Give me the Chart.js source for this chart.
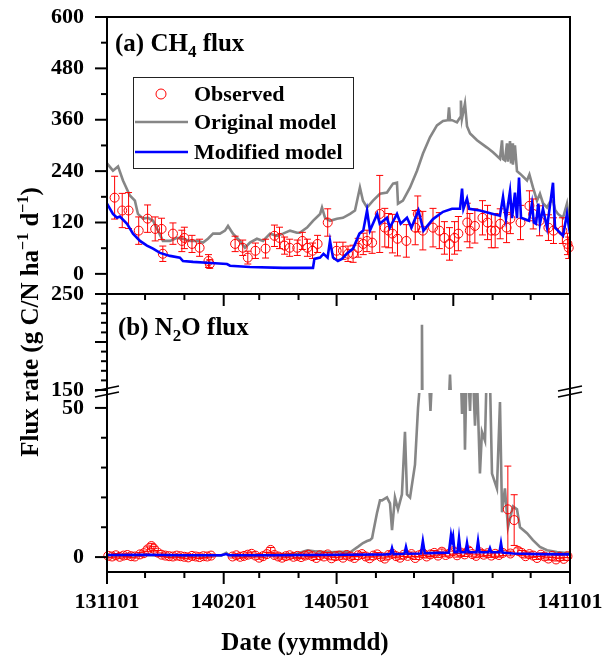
<!DOCTYPE html>
<html>
<head>
<meta charset="utf-8">
<script src="https://cdn.jsdelivr.net/npm/chart.js@4.4.1/dist/chart.umd.min.js"></script>
<style>
  html, body { margin: 0; padding: 0; background: #fff; }
  #fluxChart { display: block; }
</style>
</head>
<body>
<canvas id="fluxChart" width="604" height="663"></canvas>
<script>
// ---- Data (x = days since 2013-11-01) ----
const xMajorDays = [0, 92, 181, 273, 365];
const xMajorLabels = ['131101', '140201', '140501', '140801', '141101'];
const xMinorDays = [30, 61, 120, 151, 212, 242, 304, 334];

const ch4Ticks = [0, 120, 240, 360, 480, 600];
const ch4Minor = [60, 180, 300, 420, 540];
const n2oHighTicks = [150, 200, 250];
const n2oHighMinor = [160, 170, 180, 190, 210, 220, 230, 240];
const n2oLowTicks = [0, 50];
const n2oLowMinor = [10, 20, 30, 40];

// CH4 original model [day, flux]
const ch4Original = [
  [0,258],[4.7,241],[8.7,251],[12.6,218],[18,183],[22,171],[24.4,140],[28.4,129],[32.3,131],
  [36.3,124],[40.2,101],[44.1,77],[49.7,77],[55.2,84],[59.9,82],[65.4,77],[71,77],[75.7,73],
  [79.6,82],[83.6,94],[89,94],[93,101],[95.4,112],[99.3,94],[104.8,77],[108.8,61],[112.7,73],
  [118.2,82],[123,77],[128.5,94],[134,89],[138.7,94],[144.3,101],[149.8,96],[152,96],[157.7,108],
  [162.4,124],[168,140],[169.5,155],[171.9,131],[175.8,124],[181.3,129],[186,131],[191.6,140],
  [195.5,148],[199.4,202],[201.8,171],[205,155],[209.7,171],[215.2,187],[220.7,190],[225.5,211],
  [228.6,213],[229.4,164],[233.3,171],[238.9,202],[244.4,241],[249.1,281],[254.6,319],[260.1,347],
  [264.9,357],[268.8,359],[269.6,389],[270.4,359],[272,359],[275.9,354],[278.3,365],[279,405],
  [279.8,362],[282.2,398],[283.8,345],[286.2,328],[291.7,312],[299.6,295],[304.3,284],[309.8,269],
  [311.4,312],[312.2,268],[313.7,265],[315.3,305],[316,262],[317.7,310],[318.5,258],[319.3,305],
  [320,255],[321.6,300],[323.2,240],[325.6,234],[331.1,218],[333,232],[335.8,202],[339,171],
  [341.3,187],[343.7,165],[346.9,155],[349.2,168],[351.6,171],[353.2,150],[355.5,140],[359.5,131],
  [362.6,164],[364.2,124],[365,120]
];

// CH4 modified model [day, flux]
const ch4Modified = [
  [0,164],[4.7,140],[7.9,131],[10.2,134],[15.8,117],[20.5,94],[26,77],[31.5,66],[36.3,59],
  [41.8,49],[49.7,42],[57.5,38],[59.9,30],[67.8,28],[78.8,26],[94.6,23],[97,19],[112.7,16],
  [138.7,14],[162.4,14],[163.5,35],[168,38],[170.7,47],[173.9,38],[175.8,77],[178.2,38],[182,30],
  [185.2,35],[189,47],[194,59],[199,94],[202,101],[205,148],[207.3,101],[213,140],[215,117],
  [220.7,131],[223,108],[228.6,140],[231.5,117],[236.5,131],[240,108],[245.5,148],[249.5,101],
  [257,128],[264.9,145],[272,152],[278.3,152],[279.9,199],[281,152],[283.8,176],[285.5,152],
  [294,148],[304.3,140],[309.8,136],[312.2,180],[314.5,129],[317.7,193],[319.3,130],[321.6,190],
  [323.2,130],[324.8,225],[326.4,131],[332.7,124],[335,164],[336.5,120],[338.2,117],[340,164],
  [341.3,117],[343.7,152],[346.9,108],[351.6,213],[353.2,108],[355.5,101],[359.5,89],[362.6,140],
  [364.2,108],[365,95]
];

// CH4 observed [day, mean, sd]
const ch4Observed = [
  [6,178,50],[12,148,40],[17,148,42],[25,101,32],[32,129,32],[38,105,28],[43,105,25],[44,47,18],
  [52,94,25],[59,77,25],[61,84,25],[67,70,20],[73,61,20],[80,30,15],[81,23,10],[101,70,18],
  [107,61,18],[111,38,15],[117,54,18],[125,59,22],[132,89,25],[136,84,25],[140,66,20],[144,61,20],
  [150,61,18],[154,77,20],[158,61,20],[162,54,18],[166,70,20],[174,120,32],[181,54,20],[186,54,20],
  [190,47,18],[194,47,20],[198,61,22],[202,70,25],[205,77,25],[209,73,25],[215,140,90],[219,108,45],
  [222,101,40],[225,94,45],[229,82,40],[236,77,38],[243,108,40],[245,140,42],[249,101,45],[257,108,45],
  [262,101,42],[266,84,38],[270,70,38],[274,84,38],[277,94,40],[284,120,45],[286,101,40],[290,112,40],
  [296,131,40],[300,120,40],[303,101,40],[306,101,40],[310,117,35],[315,108,35],[318,129,35],[326,120,40],
  [333,159,35],[336,140,35],[341,124,35],[348,108,30],[352,101,30],[359,101,30],[363,70,25],[364,61,25]
];

// N2O original model [day, flux]
const n2oOriginal = [
  [0,0.6],[15,0.5],[30,0.7],[45,0.5],[60,0.4],[75,0.6],[90,0.5],[94,1.4],[96,0.6],[110,0.5],
  [125,0.7],[140,0.9],[150,1.2],[158,2.3],[165,1.9],[175,1.6],[185,1.8],[192,1.7],[198,3.5],
  [201.8,4.7],[205,5.4],[207.3,5.7],[209,6.4],[209.7,8],[212.8,14.7],[215.2,19],[216.8,19],
  [220.7,20],[223.1,18],[224.7,9],[227,20],[229.4,16],[232.5,21],[234.9,42],[236.5,21],[238.9,20],
  [242.8,31],[245.2,50],[246.7,58],[247.6,60],[248.3,218],[249,60],[250.7,70],[253.8,60],[255,49],
  [256.2,60],[261,90],[266.5,130],[269.6,140],[270.4,166],[271.2,140],[272,120],[276.7,90],
  [278.3,70],[279.9,48],[281.4,60],[282.2,36],[283.8,70],[286.2,49],[287.7,70],[290.1,44],
  [291.7,60],[294,28],[295.6,42],[298,39],[300.3,80],[301.9,60],[303.5,28],[307.4,23],[309.8,52],
  [311.4,15],[313.7,23],[316.1,10],[320,17],[323.2,16],[325.6,10],[331.1,8],[335.8,5.7],
  [341.3,3.4],[346.9,2.3],[354.7,1.7],[364.2,1.3],[365,1.2]
];

// N2O modified model [day, flux]
const n2oModified = [
  [0,0.7],[30,0.8],[60,0.6],[90,0.6],[94,1.0],[96,0.6],[130,0.6],[160,0.7],[190,0.8],[220,0.9],
  [223.5,1.0],[224.7,3.0],[226,1.0],[234.5,1.1],[235.7,3.4],[237,1.1],[247.5,1.2],[249,5.4],
  [250.5,1.3],[260,1.4],[269.5,1.5],[271.2,7.4],[272,5.5],[272.8,7.0],[274,1.6],[276.3,1.6],
  [277.5,6.4],[278.7,1.6],[282.6,1.6],[283.8,4.7],[285,1.6],[291.3,1.6],[292.5,5.4],[293.7,1.6],
  [300.7,1.6],[301.9,3.0],[303,1.6],[309.4,1.6],[310.6,4.7],[311.8,1.5],[320,1.2],[340,1.0],[365,0.9]
];

// N2O observed [day, mean, sd]
const n2oObserved = [
  [1,0.4,0.5],[4,0.2,0.5],[7,0.6,0.6],[10,0.1,0.5],[13,0.5,0.5],[16,0.7,0.6],[19,0.3,0.5],
  [22,0.2,0.5],[26,0.9,0.6],[29,1.3,0.7],[32,2.6,0.8],[35,3.7,0.9],[37,2.8,0.8],[40,1.5,0.7],
  [43,0.8,0.6],[46,0.5,0.5],[49,0.3,0.5],[52,0.2,0.5],[55,0.5,0.5],[58,0.3,0.5],[61,0.1,0.5],
  [64,-0.1,0.5],[67,0.4,0.5],[70,0.2,0.5],[73,0.0,0.5],[76,0.3,0.5],[79,0.2,0.5],[82,0.5,0.5],
  [99,0.2,0.5],[102,0.6,0.5],[105,0.1,0.5],[108,0.4,0.5],[111,0.8,0.6],[114,1.1,0.6],[117,0.5,0.5],
  [120,-0.2,0.5],[123,0.3,0.5],[126,1.0,0.6],[129,2.4,0.8],[132,0.7,0.6],[135,0.2,0.5],[138,-0.2,0.5],
  [141,0.3,0.5],[144,0.6,0.5],[147,0.1,0.5],[150,0.4,0.5],[153,0.0,0.5],[156,0.5,0.5],[159,0.8,0.6],
  [162,0.3,0.5],[165,-0.3,0.5],[168,0.6,0.5],[171,0.2,0.5],[174,0.9,0.6],[177,-0.4,0.5],[180,0.3,0.5],
  [183,0.5,0.5],[186,-0.2,0.5],[189,0.7,0.6],[192,0.2,0.5],[195,-0.3,0.5],[198,0.6,0.5],[201,1.0,0.6],
  [204,0.2,0.5],[207,-0.4,0.5],[210,0.5,0.5],[213,0.9,0.6],[216,0.1,0.5],[219,-0.5,0.5],[222,0.7,0.6],
  [225,1.1,0.7],[228,0.3,0.5],[231,-0.2,0.5],[234,0.8,0.6],[237,0.4,0.5],[240,1.0,0.7],[243,-0.3,0.5],
  [246,0.6,0.6],[249,1.3,0.8],[252,0.2,0.5],[255,0.9,0.7],[258,1.4,0.8],[261,0.5,0.6],[264,1.8,0.9],
  [267,0.7,0.6],[270,1.2,0.8],[273,2.0,1.0],[276,0.6,0.6],[279,1.5,0.9],[282,0.9,0.7],[285,2.2,1.0],
  [288,1.0,0.7],[291,0.4,0.6],[294,1.6,0.9],[297,0.8,0.7],[300,1.3,0.8],[303,0.5,0.6],[306,1.1,0.8],
  [309,0.7,0.7],[312,1.4,0.9],[316,16.0,14.5],[318,1.2,0.8],[321,12.4,8.5],[324,2.1,1.0],[327,1.4,0.8],
  [330,0.3,0.6],[333,1.0,0.7],[336,0.5,0.6],[339,-0.3,0.5],[342,0.8,0.6],[345,0.2,0.5],[348,-0.5,0.5],
  [351,0.4,0.5],[354,-0.8,0.5],[357,0.1,0.5],[360,-0.6,0.5],[363,0.3,0.5]
];

// ---- Styling ----
const FONT = 'Liberation Serif';
const tickFont = { family: FONT, size: 22, weight: 'bold' };
const GRAY = '#868686';
const BLUE = '#0000ff';
const RED = '#ff0000';

function toXY(rows) {
  return rows.map(r => ({ x: r[0], y: r[1], err: r[2] }));
}

function lineSet(label, rows, color, axis, order) {
  return {
    type: 'line', label, data: toXY(rows), yAxisID: axis, order,
    borderColor: color, borderWidth: 2.6, pointRadius: 0, tension: 0, clip: 0
  };
}

function obsSet(label, rows, axis) {
  return {
    type: 'line', label, data: toXY(rows), yAxisID: axis, order: 2, showLine: false,
    pointRadius: 4.5, pointBorderWidth: 1, pointBorderColor: RED,
    pointBackgroundColor: 'rgba(0,0,0,0)', errorBars: true, clip: 8
  };
}

function yScale(min, max, ticks, weight, stackWeight) {
  return {
    type: 'linear', position: 'left', stack: 'flux', stackWeight, weight, min, max,
    afterBuildTicks: s => { s.ticks = ticks.map(v => ({ value: v })); },
    afterFit: s => { s.width = 107; s.paddingTop = 0; s.paddingBottom = 0; },
    grid: { display: false, drawTicks: false },
    border: { display: false },
    ticks: { font: tickFont, color: '#000', padding: 23, display: ticks.length > 0 }
  };
}

// error bars under the observed circles
const errorBarPlugin = {
  id: 'errorBars',
  beforeDatasetDraw(chart, args) {
    const ds = chart.data.datasets[args.index];
    if (!ds.errorBars) return;
    const { ctx } = chart;
    const xs = args.meta.xScale, ys = args.meta.yScale;
    ctx.save();
    ctx.beginPath();
    ctx.rect(xs.left, ys.top, xs.right - xs.left, ys.bottom - ys.top);
    ctx.clip();
    ctx.strokeStyle = RED;
    ctx.lineWidth = 1;
    ds.data.forEach(p => {
      const px = xs.getPixelForValue(p.x);
      const top = ys.getPixelForValue(p.y + p.err);
      const bot = ys.getPixelForValue(p.y - p.err);
      ctx.beginPath();
      ctx.moveTo(px, top); ctx.lineTo(px, bot);
      ctx.moveTo(px - 3.5, top); ctx.lineTo(px + 3.5, top);
      ctx.moveTo(px - 3.5, bot); ctx.lineTo(px + 3.5, bot);
      ctx.stroke();
    });
    ctx.restore();
  }
};

function drawRich(ctx, parts, x, y) {
  parts.forEach(([text, size, dy]) => {
    ctx.font = `bold ${size}px "${FONT}"`;
    ctx.fillText(text, x, y + (dy || 0));
    x += ctx.measureText(text).width;
  });
  return x;
}

function richWidth(ctx, parts) {
  let w = 0;
  parts.forEach(([text, size]) => {
    ctx.font = `bold ${size}px "${FONT}"`;
    w += ctx.measureText(text).width;
  });
  return w;
}

// frame, ticks, axis breaks, titles and legend
const framePlugin = {
  id: 'frame',
  afterDraw(chart) {
    const { ctx, scales } = chart;
    const x = scales.x, yA = scales.yCH4, yH = scales.yN2OHigh, yL = scales.yN2OLow;
    const L = x.left, R = x.right;
    ctx.save();
    ctx.strokeStyle = '#000';
    ctx.lineWidth = 2;
    ctx.lineCap = 'butt';

    ctx.strokeRect(L, yA.top, R - L, yA.bottom - yA.top);
    ctx.strokeRect(L, yH.top, R - L, yL.bottom - yH.top);

    const hLine = (x1, x2, y) => { ctx.beginPath(); ctx.moveTo(x1, y); ctx.lineTo(x2, y); ctx.stroke(); };
    const vLine = (px, y1, y2) => { ctx.beginPath(); ctx.moveTo(px, y1); ctx.lineTo(px, y2); ctx.stroke(); };

    [[yA, ch4Ticks, ch4Minor], [yH, n2oHighTicks, n2oHighMinor], [yL, n2oLowTicks, n2oLowMinor]]
      .forEach(([s, major, minor]) => {
        major.forEach(v => hLine(L - 12, L, s.getPixelForValue(v)));
        minor.forEach(v => hLine(L - 6, L, s.getPixelForValue(v)));
      });

    xMajorDays.forEach(d => {
      const px = x.getPixelForValue(d);
      vLine(px, yL.bottom, yL.bottom + 12);
      vLine(px, yH.top, yH.top + 12);
    });
    xMinorDays.forEach(d => {
      const px = x.getPixelForValue(d);
      vLine(px, yL.bottom, yL.bottom + 6);
      vLine(px, yH.top, yH.top + 6);
    });

    // axis break marks
    const cy = (yH.bottom + yL.top) / 2;
    ctx.lineWidth = 1.6;
    [L, R].forEach(bx => {
      [-3, 3].forEach(off => {
        ctx.beginPath();
        ctx.moveTo(bx - 12, cy + off + 2.5);
        ctx.lineTo(bx + 12, cy + off - 2.5);
        ctx.stroke();
      });
    });

    // text
    ctx.fillStyle = '#000';
    ctx.textAlign = 'left';
    ctx.textBaseline = 'alphabetic';
    drawRich(ctx, [['(a) CH', 25], ['4', 17, 6], [' flux', 25]], 115, 51);
    drawRich(ctx, [['(b) N', 25], ['2', 17, 6], ['O flux', 25]], 118, 335);

    ctx.font = `bold 25px "${FONT}"`;
    ctx.textAlign = 'center';
    ctx.fillText('Date (yymmdd)', 305, 650);
    ctx.textAlign = 'left';

    ctx.save();
    ctx.translate(38, 322);
    ctx.rotate(-Math.PI / 2);
    const yTitle = [['Flux rate (g C/N ha', 25], ['\u22121', 16, -10], [' d', 25], ['\u22121', 16, -10], [')', 25]];
    drawRich(ctx, yTitle, -richWidth(ctx, yTitle) / 2, 0);
    ctx.restore();

    // legend
    ctx.lineWidth = 1;
    ctx.strokeStyle = '#222';
    ctx.strokeRect(133.5, 77.5, 220, 91);
    ctx.strokeStyle = RED;
    ctx.beginPath();
    ctx.arc(161, 94, 5, 0, Math.PI * 2);
    ctx.stroke();
    ctx.lineWidth = 2.6;
    ctx.strokeStyle = GRAY; hLine(135, 188, 122);
    ctx.strokeStyle = BLUE; hLine(135, 188, 152);
    ctx.font = `bold 22px "${FONT}"`;
    ctx.fillText('Observed', 194, 101);
    ctx.fillText('Original model', 194, 129);
    ctx.fillText('Modified model', 194, 159);
    ctx.restore();
  }
};

new Chart(document.getElementById('fluxChart'), {
  type: 'line',
  data: {
    datasets: [
      lineSet('Modified model', ch4Modified, BLUE, 'yCH4', 1),
      obsSet('Observed', ch4Observed, 'yCH4'),
      lineSet('Original model', ch4Original, GRAY, 'yCH4', 3),
      lineSet('Modified model', n2oModified, BLUE, 'yN2OLow', 1),
      obsSet('Observed', n2oObserved, 'yN2OLow'),
      lineSet('Original model', n2oOriginal, GRAY, 'yN2OLow', 3),
      lineSet('Original model', n2oOriginal, GRAY, 'yN2OHigh', 3)
    ]
  },
  options: {
    responsive: false,
    animation: false,
    events: [],
    layout: { padding: { top: 17, right: 34, bottom: 0, left: 0 } },
    plugins: { legend: { display: false }, tooltip: { enabled: false } },
    scales: {
      x: {
        type: 'linear', position: 'bottom', min: 0, max: 365,
        afterBuildTicks: s => { s.ticks = xMajorDays.map(v => ({ value: v })); },
        afterFit: s => { s.height = 91; s.paddingLeft = 0; s.paddingRight = 0; },
        grid: { display: false, drawTicks: false },
        border: { display: false },
        ticks: {
          font: tickFont, color: '#000', padding: 17, autoSkip: false, maxRotation: 0,
          callback: v => xMajorLabels[xMajorDays.indexOf(v)]
        }
      },
      yCH4: yScale(-47, 600, ch4Ticks, 4, 277),
      yN2OHigh: yScale(150, 250, n2oHighTicks, 3, 96),
      yGap: yScale(0, 1, [], 2, 3),
      yN2OLow: yScale(-5, 55, n2oLowTicks, 1, 179)
    }
  },
  plugins: [errorBarPlugin, framePlugin]
});
</script>
</body>
</html>
